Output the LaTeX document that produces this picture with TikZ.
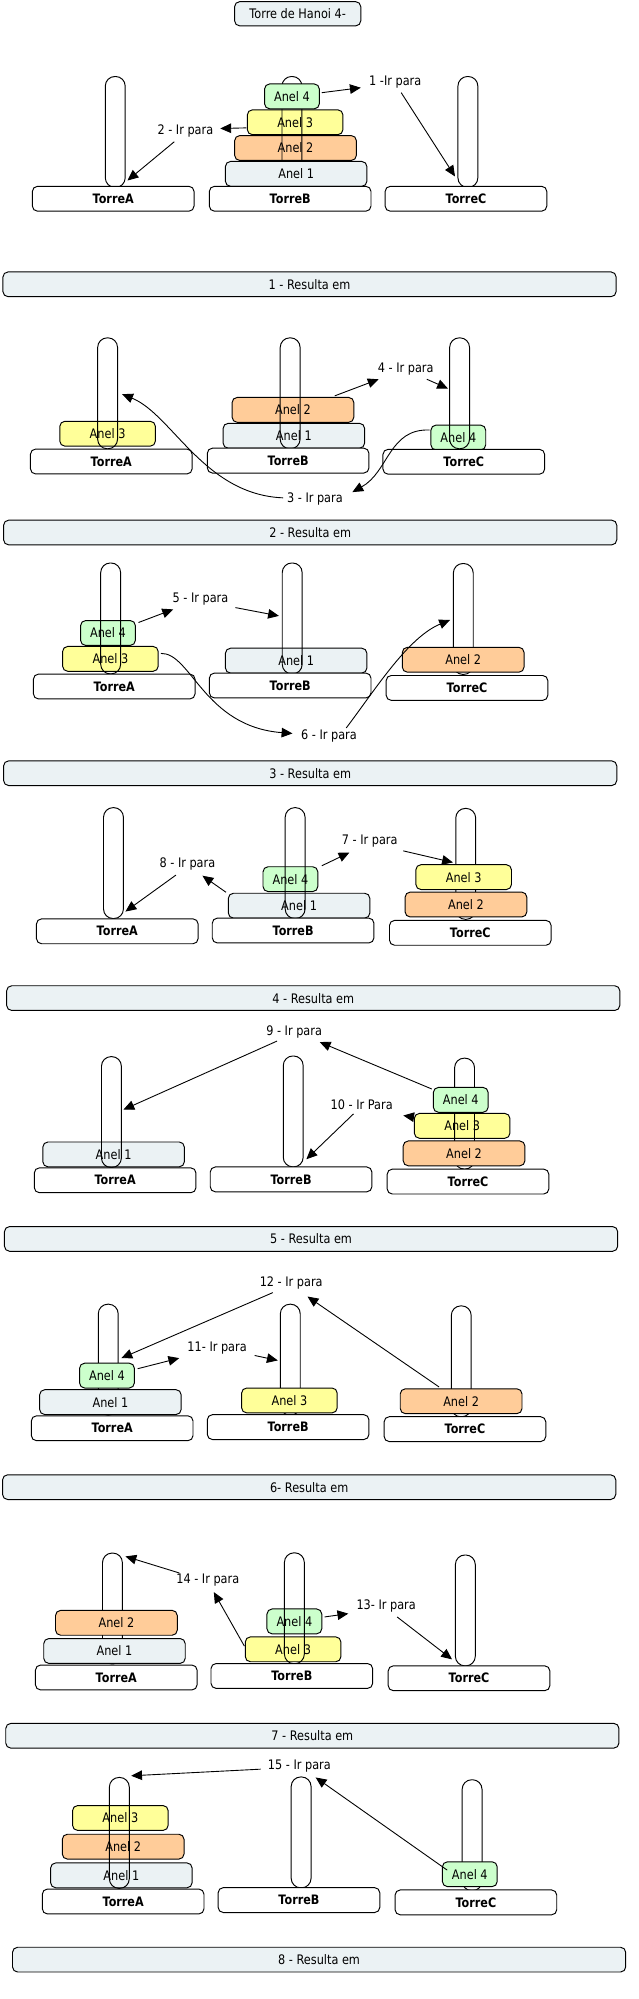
\documentclass[tikz,border=0pt]{standalone}
\usepackage{fontspec}
\setmainfont{DejaVu Sans}[FakeStretch=0.86]
\usetikzlibrary{arrows.meta}
\definecolor{cA}{RGB}{235,242,244}
\definecolor{cB}{RGB}{255,204,153}
\definecolor{cC}{RGB}{255,255,153}
\definecolor{cD}{RGB}{204,255,204}
\newcommand\harrow[3]{\coordinate (#1s) at (#2); \coordinate (#1e) at (#3); \draw[harr] (#1s) -- (#1e);}
\newcommand\hcurve[5]{\coordinate (#1s) at (#2); \coordinate (#1e) at (#5); \draw[harr] (#1s) .. controls (#3) and (#4) .. (#1e);}
\begin{document}
\begin{tikzpicture}[x=1pt,y=-1pt,
  hbox/.style={draw, line width=0.75pt, rounded corners=4pt, inner sep=0pt, font=\fontsize{10.3}{12}\selectfont},
  hpole/.style={draw, line width=0.75pt, rounded corners=7.5pt, minimum width=15.6pt, minimum height=87pt, inner sep=0pt},
  hbase/.style={hbox, fill=white, minimum width=126.8pt, minimum height=19.5pt, font=\fontsize{10.2}{12}\selectfont\bfseries},
  hring/.style={hbox, minimum height=19.5pt},
  r1/.style={hring, fill=cA, minimum width=111pt},
  r2/.style={hring, fill=cB, minimum width=95.5pt},
  r3/.style={hring, fill=cC, minimum width=75pt},
  r4/.style={hring, fill=cD, minimum width=43pt},
  hbar/.style={hbox, fill=cA, minimum width=481pt, minimum height=19.4pt},
  hlab/.style={inner sep=1pt, font=\fontsize{10.3}{12}\selectfont},
  harr/.style={-{Triangle[length=8.5pt,width=7.5pt]}, line width=0.7pt},
]
\useasboundingbox (0,0) rectangle (501,1568);
\fill[white] (0,0) rectangle (501,1568);

\node[hbox, fill=cA, minimum width=99pt, minimum height=19pt] (title) at (233.5,10.8) {Torre de Hanoi 4-};

% ---- row 1
\node[hpole] (pA1) at (90.4,103.5) {};
\node[hpole] (pC1) at (367,103.5) {};
\node[r2] (r1n2) at (231.8,116.1) {Anel 2};
\node[r3] (r1n3) at (231.5,95.9) {Anel 3};
\node[hpole] (pB1) at (229,103.5) {};
\node[r1] (r1n1) at (232.3,136.4) {Anel 1};
\node[r4] (r1n4) at (229,75.6) {Anel 4};
\node[hbase] (bA1) at (88.8,155.9) {TorreA};
\node[hbase] (bB1) at (227.6,155.9) {TorreB};
\node[hbase] (bC1) at (365.5,155.9) {TorreC};
\node[hlab] (m1) at (310,64.4) {1 -Ir para};
\node[hlab] (m2) at (145.4,102.6) {2 - Ir para};
\harrow{a1}{252.4,72.7}{283,68.8}
\harrow{b1}{314.7,72.7}{356.9,138.4}
\harrow{a2}{193.3,100.3}{172.8,100.8}
\harrow{b2}{136.7,111.2}{100,141.6}
\node[hbar] (s1) at (242.8,223) {1 - Resulta em};

% ---- row 2
\node[r3] (r2n3) at (84.4,340.2) {Anel 3};
\node[hpole] (pA2) at (84.4,308.5) {};
\node[r2] (r2n2) at (229.8,321.5) {Anel 2};
\node[r1] (r2n1) at (230.5,341.8) {Anel 1};
\node[hpole] (pB2) at (227.6,308.5) {};
\node[r4] (r2n4) at (359.5,343.2) {Anel 4};
\node[hpole] (pC2) at (360.5,308.5) {};
\node[hbase] (bA2) at (87.3,362) {TorreA};
\node[hbase] (bB2) at (226,361.3) {TorreB};
\node[hbase] (bC2) at (363.8,362.2) {TorreC};
\node[hlab] (m4) at (318.2,289.7) {4 - Ir para};
\node[hlab] (m3) at (247,391.6) {3 - Ir para};
\harrow{a4}{262.6,310.5}{297,297.5}
\harrow{b4}{334.8,297.5}{351.4,304.8}
\hcurve{a3}{222,390.5}{160,388}{135,325}{95.8,309.2}
\hcurve{b3}{337,337.3}{305,336}{305,370}{276.4,386}
\node[hbar] (s2) at (243.3,417.7) {2 - Resulta em};

% ---- row 3
\node[r4] (r3n4) at (84.7,496.5) {Anel 4};
\node[r3] (r3n3) at (86.6,516.8) {Anel 3};
\node[hpole] (pA3) at (86.8,485.1) {};
\node[r1] (r3n1) at (232.3,518.2) {Anel 1};
\node[hpole] (pB3) at (229.2,485.1) {};
\node[hpole] (pC3) at (363.4,485.5) {};
\node[r2] (r3n2) at (363.3,517.5) {Anel 2};
\node[hbase] (bA3) at (89.6,538.5) {TorreA};
\node[hbase] (bB3) at (227.6,537.7) {TorreB};
\node[hbase] (bC3) at (366.3,539.6) {TorreC};
\node[hlab] (m5) at (157.2,470.2) {5 - Ir para};
\node[hlab] (m6) at (258,577.4) {6 - Ir para};
\harrow{a5}{108.6,488.3}{135.8,478}
\harrow{b5}{184.7,476.6}{218.8,483.1}
\hcurve{a6}{126.2,512.5}{150,512}{160,570}{229.4,575.3}
\hcurve{b6}{271.6,571}{295,540}{320,500}{353,486.3}
\node[hbar] (s3) at (243.3,606.5) {3 - Resulta em};

% ---- row 4
\node[hpole] (pA4) at (89,677) {};
\node[r4] (r4n4) at (227.8,689.6) {Anel 4};
\node[r1] (r4n1) at (234.6,710.4) {Anel 1};
\node[hpole] (pB4) at (231.5,677) {};
\node[hpole] (pC4) at (365.3,677.6) {};
\node[r3] (r4n3) at (363.7,688) {Anel 3};
\node[r2] (r4n2) at (365.5,709.5) {Anel 2};
\node[hbase] (bA4) at (92,730.5) {TorreA};
\node[hbase] (bB4) at (229.9,729.9) {TorreB};
\node[hbase] (bC4) at (368.9,731.7) {TorreC};
\node[hlab] (m7) at (290,659.7) {7 - Ir para};
\node[hlab] (m8) at (147,677.8) {8 - Ir para};
\harrow{a7}{252.4,679.1}{274.1,668.7}
\harrow{b7}{316.3,667.4}{355.3,676.5}
\harrow{a8}{177.3,699.9}{158.8,686.9}
\harrow{b8}{138,686.4}{98.4,715}
\node[hbar] (s4) at (245.7,782.9) {4 - Resulta em};

% ---- row 5
\node[hlab] (m9) at (230.7,809.6) {9 - Ir para};
\node[r1] (r5n1) at (89.1,905.5) {Anel 1};
\node[hpole] (pA5) at (87.4,872.3) {};
\node[hpole] (pB5) at (230,871.8) {};
\node[r3] (r5n3) at (362.5,883.1) {Anel 3};
\node[hpole] (pC5) at (364.4,873.5) {};
\node[r4] (r5n4) at (361.4,862.7) {Anel 4};
\node[r2] (r5n2) at (364,904.7) {Anel 2};
\node[hbase] (bA5) at (90.3,925.8) {TorreA};
\node[hbase] (bB5) at (228.3,925.1) {TorreB};
\node[hbase] (bC5) at (367.1,926.8) {TorreC};
\node[hlab] (m10) at (283.7,866.7) {10 - Ir Para};
\harrow{a9}{217.3,816.6}{96.8,870.4}
\harrow{b9}{338.7,854.2}{250.8,817.4}
\harrow{a10}{324.9,876.3}{316.3,875}
\harrow{b10}{277.3,873.7}{240.3,909.3}
\node[hbar] (s5) at (244,971.8) {5 - Resulta em};

% ---- row 6
\node[hlab] (m12) at (228.4,1006.6) {12 - Ir para};
\node[hpole] (pA6) at (84.9,1066.5) {};
\node[r4] (r6n4) at (83.9,1079) {Anel 4};
\node[r1] (r6n1) at (86.6,1099.8) {Anel 1};
\node[hpole] (pB6) at (227.7,1066.5) {};
\node[r3] (r6n3) at (227,1098.5) {Anel 3};
\node[hpole] (pC6) at (361.8,1067.8) {};
\node[r2] (r6n2) at (361.7,1099.1) {Anel 2};
\node[hbase] (bA6) at (88,1120.3) {TorreA};
\node[hbase] (bB6) at (226,1119.4) {TorreB};
\node[hbase] (bC6) at (364.7,1121) {TorreC};
\node[hlab] (m11) at (170.3,1057.5) {11- Ir para};
\harrow{a12}{214,1013.9}{95.2,1065.3}
\harrow{b12}{344.4,1087.9}{241.2,1017}
\harrow{a11}{108,1073.6}{140.6,1065.3}
\harrow{b11}{199.7,1063.2}{217.9,1067.1}
\node[hbar] (s6) at (242.5,1166.5) {6- Resulta em};

% ---- row 7
\node[hpole] (pA7) at (88.2,1261.7) {};
\node[r2] (r7n2) at (91.3,1272.9) {Anel 2};
\node[r1] (r7n1) at (89.8,1295) {Anel 1};
\node[r4] (r7n4) at (230.9,1271.8) {Anel 4};
\node[r3] (r7n3) at (229.9,1293.7) {Anel 3};
\node[hpole] (pB7) at (230.9,1261.5) {};
\node[hpole] (pC7) at (365,1263.2) {};
\node[hbase] (bA7) at (91.2,1315.8) {TorreA};
\node[hbase] (bB7) at (228.9,1314.6) {TorreB};
\node[hbase] (bC7) at (367.9,1316.4) {TorreC};
\node[hlab] (m14) at (163,1239.7) {14 - Ir para};
\node[hlab] (m13) at (302.9,1260) {13- Ir para};
\harrow{a14}{140.6,1233.8}{98.4,1220.8}
\harrow{b14}{191.7,1291.2}{167.7,1248.8}
\harrow{a13}{254.6,1268.3}{273.2,1265.7}
\harrow{b13}{311.5,1268.3}{354.6,1301.6}
\node[hbar] (s7) at (245,1361.5) {7 - Resulta em};

% ---- row 8
\node[hlab] (m15) at (234.8,1385.1) {15 - Ir para};
\node[r3] (r8n3) at (94.4,1426) {Anel 3};
\node[r2] (r8n2) at (96.6,1448.5) {Anel 2};
\node[r1] (r8n1) at (95.2,1471) {Anel 1};
\node[hpole] (pA8) at (93.6,1437.7) {};
\node[hpole] (pB8) at (236.2,1437.3) {};
\node[hpole] (pC8) at (370.3,1439.5) {};
\node[r4] (r8n4) at (368.5,1470.1) {Anel 4};
\node[hbase] (bA8) at (96.6,1491.5) {TorreA};
\node[hbase] (bB8) at (234.5,1490.4) {TorreB};
\node[hbase] (bC8) at (373.3,1492.2) {TorreC};
\harrow{a15}{204.5,1387.7}{102.9,1392.9}
\harrow{b15}{350.8,1466.9}{247.6,1394.2}
\node[hbar] (s8) at (250.3,1537.1) {8 - Resulta em};
\end{tikzpicture}
\end{document}
